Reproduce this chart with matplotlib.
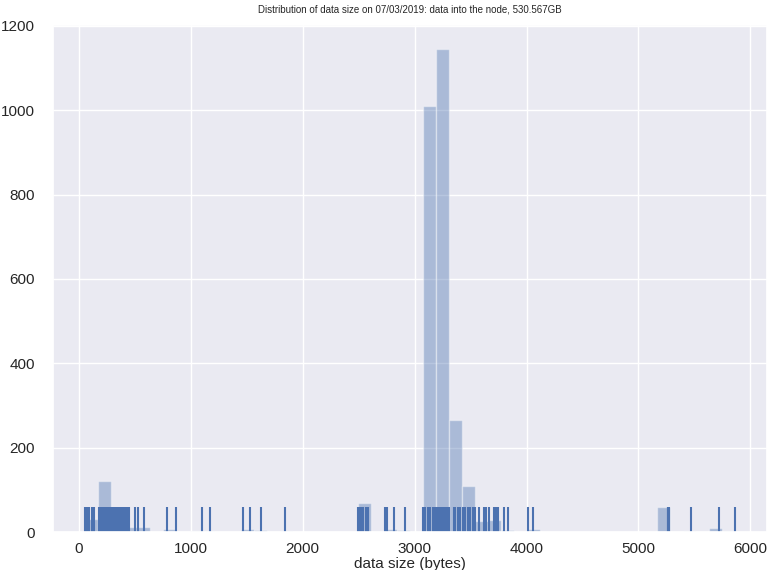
import numpy as np
import matplotlib
matplotlib.use("Agg")
import matplotlib.pyplot as plt
import seaborn as sns
from matplotlib import font_manager

# ---- data ----
# individual observations shown in the rug (bytes)
rug_values = [
    60, 75, 95, 119, 140, 184, 199,
    217, 225, 232, 240, 248, 255, 262, 270, 278, 285, 292, 300, 308, 315,
    322, 330, 338, 345, 352, 360, 368, 375, 382, 390, 398,
    415, 430, 451, 504, 533, 584, 786, 868, 1100, 1171,
    1468, 1529, 1630, 1843,
    2498, 2510, 2528, 2540, 2569, 2581, 2732, 2756, 2815, 2910,
    3076, 3097, 3120, 3141, 3162, 3170, 3178, 3186, 3194, 3202, 3210, 3218,
    3226, 3234, 3242, 3250, 3258, 3266, 3274, 3282, 3290, 3298, 3304,
    3348, 3364, 3384, 3408, 3428, 3452, 3473, 3497, 3520, 3541, 3571,
    3621, 3636, 3666, 3710, 3724, 3748, 3799, 3837, 4009, 4060,
    5262, 5268, 5274, 5467, 5719, 5858,
]
# histogram counts for the 50 equal-width bins between min and max of the data
bin_counts = [
    31, 120, 58, 13, 13, 0, 6, 0, 3, 3,
    0, 0, 8, 4, 0, 3, 0, 0, 0, 0,
    0, 68, 0, 8, 4, 0, 1009, 1145, 266, 109,
    26, 28, 5, 0, 8, 0, 0, 0, 0, 0,
    0, 0, 0, 0, 60, 0, 3, 0, 9, 2,
]
title_text = "Distribution of data size on 07/03/2019: data into the node, 530.567GB"
x_label = "data size (bytes)"
x_ticks = [0, 1000, 2000, 3000, 4000, 5000, 6000]
y_ticks = [0, 200, 400, 600, 800, 1000, 1200]

sns.set_theme(style="darkgrid")
names = {f.name for f in font_manager.fontManager.ttflist}
fam = [f for f in ["Liberation Sans Narrow", "Liberation Sans", "DejaVu Sans"] if f in names]
plt.rcParams["font.family"] = fam

fig = plt.figure(figsize=(7.67, 5.70), dpi=100)
ax = fig.add_axes([53 / 767, 1 - 532 / 570, 1 - 53 / 767, (532 - 25) / 570])

color = "#4C72B0"
edges = np.linspace(min(rug_values), max(rug_values), len(bin_counts) + 1)
centers = (edges[:-1] + edges[1:]) / 2
ax.hist(centers, bins=edges, weights=bin_counts, color=color, alpha=0.4)
sns.rugplot(x=rug_values, height=0.05, ax=ax, color=color, linewidth=1.5)

span = edges[-1] - edges[0]
ax.set_xlim(edges[0] - 0.05 * span, edges[-1] + 0.05 * span)
ax.set_ylim(0, 1202)
ax.set_xticks(x_ticks)
ax.set_yticks(y_ticks)
ax.tick_params(axis="both", labelsize=11)
ax.tick_params(axis="x", pad=1.5)
ax.tick_params(axis="y", pad=7)
ax.set_xlabel(x_label, fontsize=11)
ax.xaxis.set_label_coords(0.5, -0.05)
ax.set_title(title_text, fontsize=7, pad=9)

fig.savefig("out.png", dpi=100)
